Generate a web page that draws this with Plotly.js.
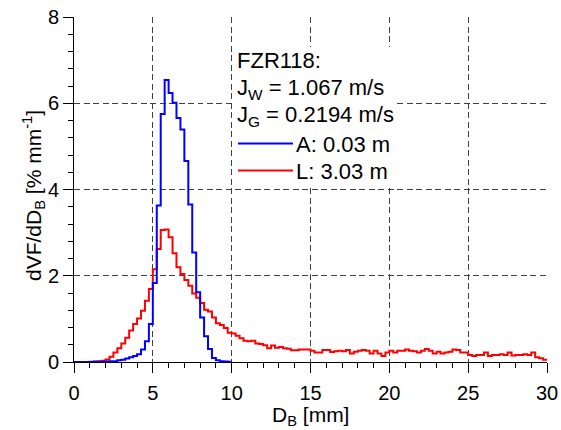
<!DOCTYPE html>
<html><head><meta charset="utf-8">
<script src="https://cdn.plot.ly/plotly-3.0.1.min.js"></script>
<style>html,body{margin:0;padding:0;background:#fff}#chart{width:561px;height:430px}</style>
</head><body><div id="chart"></div>
<script>
// ---- data ----
const binStart = 0;
const binWidth = 0.25; // mm
const blueName = 'A: 0.03 m';
const redName = 'L: 3.03 m';
const blueValues = [
  0, 0, 0, 0, 0, 0.003, 0.005, 0.008,
  0.01, 0.015, 0.02, 0.04,
  0.05, 0.08, 0.11, 0.14,
  0.18, 0.29, 0.48, 0.88,
  1.83, 3.63, 5.75, 6.54,
  6.24, 6.01, 5.66, 5.39,
  4.66, 3.65, 2.54, 1.62,
  1.03, 0.60, 0.30, 0.09,
  0.04, 0.015, 0.01, 0.005
];
const redValues = [
  0, 0, 0, 0, 0.005, 0.01, 0.02, 0.03,
  0.06, 0.12, 0.22, 0.32,
  0.43, 0.56, 0.73, 0.88,
  1.01, 1.19, 1.42, 1.69,
  2.15, 2.62, 3.06, 3.07,
  2.89, 2.52, 2.20, 2.04,
  1.90, 1.77, 1.59, 1.49,
  1.37, 1.21, 1.17, 1.03,
  0.90, 0.86, 0.79, 0.68,
  0.66, 0.61, 0.55, 0.49, 0.48, 0.49, 0.43, 0.42, 0.39, 0.32,
  0.38, 0.33, 0.35, 0.32, 0.31, 0.27, 0.27, 0.29, 0.29, 0.29,
  0.26, 0.22, 0.22, 0.28, 0.28, 0.23, 0.25, 0.26, 0.25, 0.28,
  0.20, 0.24, 0.26, 0.28, 0.26, 0.20, 0.26, 0.20, 0.14, 0.22,
  0.26, 0.22, 0.26, 0.26, 0.29, 0.26, 0.25, 0.22, 0.26, 0.30,
  0.26, 0.20, 0.24, 0.20, 0.22, 0.24, 0.29, 0.28, 0.22, 0.22,
  0.16, 0.14, 0.16, 0.16, 0.22, 0.14, 0.16, 0.16, 0.18, 0.16,
  0.22, 0.15, 0.16, 0.16, 0.18, 0.16, 0.22, 0.11, 0.085, 0.05
];
const xTickVals = [0, 5, 10, 15, 20, 25, 30];
const xTickText = ['0', '5', '10', '15', '20', '25', '30'];
const yTickVals = [0, 2, 4, 6, 8];
const yTickText = ['0', '2', '4', '6', '8'];
const headerLines = ['FZR118:', 'J<sub>W</sub> = 1.067 m/s', 'J<sub>G</sub> = 0.2194 m/s'];
const xTitle = 'D<sub>B</sub> [mm]';
const yTitle = 'dVF/dD<sub>B</sub> [% mm<sup>-1</sup>]';

// ---- build step traces ----
function stepXY(vals) {
  const x = [], y = [];
  vals.forEach((v, i) => { x.push(binStart + i * binWidth); y.push(v); });
  x.push(binStart + vals.length * binWidth); y.push(vals[vals.length - 1]);
  return {x, y};
}
const b = stepXY(blueValues), r = stepXY(redValues);

const FONT = 'Liberation Sans, Arial, Helvetica, sans-serif';
const W = 561, H = 430, ML = 74, MR = 14, MT = 17, MB = 68;
const PW = W - ML - MR, PH = H - MT - MB;
const px = v => (v - ML) / PW;
const py = v => (H - MB - v) / PH;
const TF = {family: FONT, size: 22, color: '#000'};

const traces = [
  {x: r.x, y: r.y, name: redName, type: 'scatter', mode: 'lines', line: {shape: 'hv', color: '#ff0000', width: 2}, showlegend: false},
  {x: b.x, y: b.y, name: blueName, type: 'scatter', mode: 'lines', line: {shape: 'hv', color: '#0000ff', width: 2}, showlegend: false}
];

const gridStyle = {showgrid: true, gridcolor: '#404040', gridwidth: 1, griddash: '6px,3.5px'};
const layout = {
  width: W, height: H,
  margin: {l: ML, r: MR, t: MT, b: MB, pad: 0},
  paper_bgcolor: '#fff', plot_bgcolor: '#fff',
  font: {family: FONT, size: 20, color: '#000'},
  showlegend: false,
  xaxis: Object.assign({
    range: [0, 30], tickmode: 'array', tickvals: xTickVals, ticktext: xTickText,
    ticks: 'outside', ticklen: 10, tickwidth: 1, tickcolor: '#000', ticklabelstandoff: 3,
    showline: true, linecolor: '#000', linewidth: 1, zeroline: false,
    tickfont: {family: FONT, size: 20, color: '#000'},
    minor: {tickmode: 'linear', tick0: 0, dtick: 1, ticks: 'outside', ticklen: 5, tickcolor: '#000', tickwidth: 1, showgrid: false},
    layer: 'below traces', automargin: false, fixedrange: true
  }, gridStyle),
  yaxis: Object.assign({
    range: [0, 8], tickmode: 'array', tickvals: yTickVals, ticktext: yTickText,
    ticks: 'outside', ticklen: 10, tickwidth: 1, tickcolor: '#000',
    showline: true, linecolor: '#000', linewidth: 1, zeroline: false,
    tickfont: {family: FONT, size: 20, color: '#000'},
    minor: {tickmode: 'linear', tick0: 0, dtick: 0.4, ticks: 'outside', ticklen: 5, tickcolor: '#000', tickwidth: 1, showgrid: false},
    layer: 'below traces', automargin: false, fixedrange: true
  }, gridStyle),
  shapes: [
    {type: 'rect', xref: 'paper', yref: 'paper', x0: px(235), x1: px(395), y0: py(187), y1: py(47),
     fillcolor: '#fff', line: {width: 0}, layer: 'above'},
    {type: 'line', xref: 'paper', yref: 'paper', x0: px(238), x1: px(293), y0: py(143.5), y1: py(143.5),
     line: {color: '#0000ff', width: 2}, layer: 'above'},
    {type: 'line', xref: 'paper', yref: 'paper', x0: px(238), x1: px(293), y0: py(170.5), y1: py(170.5),
     line: {color: '#ff0000', width: 2}, layer: 'above'}
  ],
  annotations: [
    {text: xTitle, xref: 'paper', yref: 'paper', x: 0.5, y: py(416), xanchor: 'center', yanchor: 'middle', borderpad: 0, showarrow: false, font: {family: FONT, size: 21, color: '#000'}},
    {text: yTitle, xref: 'paper', yref: 'paper', x: px(33), y: py(196), xanchor: 'center', yanchor: 'middle', textangle: -90, showarrow: false, font: {family: FONT, size: 21, color: '#000'}},
    {text: headerLines[0], xref: 'paper', yref: 'paper', x: px(235), y: py(61), xanchor: 'left', yanchor: 'middle', showarrow: false, font: TF},
    {text: headerLines[1], xref: 'paper', yref: 'paper', x: px(235), y: py(89), xanchor: 'left', yanchor: 'middle', showarrow: false, font: TF},
    {text: headerLines[2], xref: 'paper', yref: 'paper', x: px(235), y: py(116), xanchor: 'left', yanchor: 'middle', showarrow: false, font: TF},
    {text: blueName, xref: 'paper', yref: 'paper', x: px(294), y: py(144), xanchor: 'left', yanchor: 'middle', showarrow: false, font: TF},
    {text: redName, xref: 'paper', yref: 'paper', x: px(294), y: py(171), xanchor: 'left', yanchor: 'middle', showarrow: false, font: TF}
  ]
};

Plotly.newPlot('chart', traces, layout, {staticPlot: true, displayModeBar: false});
</script>
</body></html>
